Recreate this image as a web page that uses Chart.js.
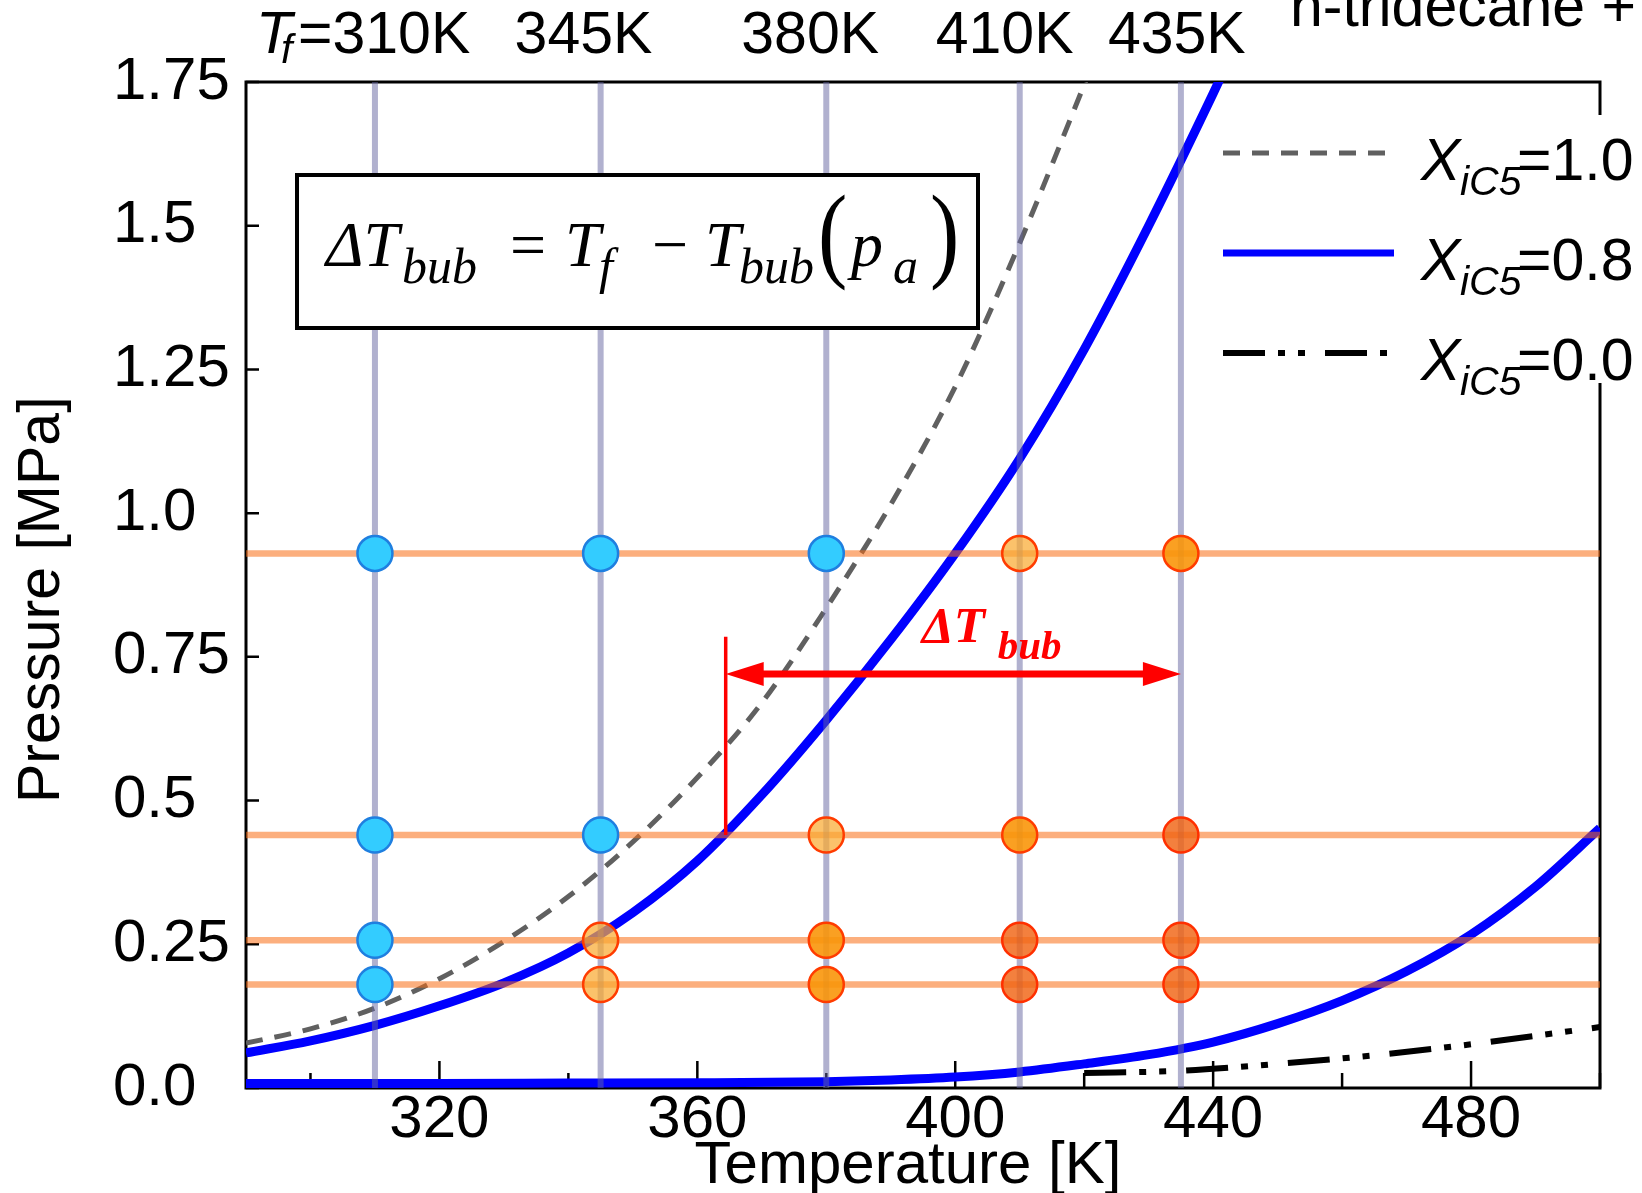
<!DOCTYPE html>
<html>
<head>
<meta charset="utf-8">
<script src="https://cdn.jsdelivr.net/npm/chart.js@4.4.1/dist/chart.umd.min.js"></script>
<style>
  html, body { margin: 0; padding: 0; background: #fff; }
  #wrap { width: 1642px; height: 1193px; }
</style>
</head>
<body>
<div id="wrap"><canvas id="chart" width="1642" height="1193"></canvas></div>
<script>
// feed temperatures [K] and ambient pressures [MPa] of the test matrix
const TF = [310, 345, 380, 410, 435];
const PA = [0.930, 0.440, 0.257, 0.180];
// flashing regime per test point (rows follow PA, columns follow TF)
// 0 = no flash, 1 = weak, 2 = moderate, 3 = strong
const REGIME = [
  [0, 0, 0, 1, 2],
  [0, 0, 1, 2, 3],
  [0, 1, 2, 3, 3],
  [0, 1, 2, 3, 3],
];

// X_iC5 = 1.0, pure isopentane saturation pressure
const T_PURE = [290, 300, 310, 320, 330, 340, 350, 360, 370, 380, 390, 400, 410, 420, 422];
const P_PURE = [0.078, 0.103, 0.139, 0.19, 0.255, 0.333, 0.428, 0.54, 0.67, 0.835, 1.015, 1.22, 1.47, 1.745, 1.80];
// X_iC5 = 0.8, bubble line
const T_BUB = [290, 300, 310, 320, 330, 340, 350, 360, 370, 380, 390, 400, 410, 420, 430, 440, 445];
const P_BUB = [0.061, 0.082, 0.109, 0.143, 0.183, 0.235, 0.305, 0.395, 0.51, 0.64, 0.78, 0.93, 1.095, 1.285, 1.50, 1.73, 1.85];
// X_iC5 = 0.8, lower (dew) branch
const T_DEW = [290, 300, 320, 340, 360, 380, 390, 400, 410, 420, 430, 440, 450, 460, 470, 480, 490, 500];
const P_DEW = [0.008, 0.008, 0.008, 0.0085, 0.009, 0.011, 0.014, 0.019, 0.028, 0.042, 0.058, 0.08, 0.112, 0.152, 0.203, 0.267, 0.35, 0.452];
// X_iC5 = 0.0
const T_C13 = [420, 435, 450, 465, 480, 500];
const P_C13 = [0.026, 0.030, 0.042, 0.057, 0.076, 0.106];

const X_TICKS = [300, 320, 340, 360, 380, 400, 420, 440, 460, 480, 500];
const X_LABELS = ['', '320', '', '360', '', '400', '', '440', '', '480', ''];
const Y_TICKS = [0, 0.25, 0.5, 0.75, 1.0, 1.25, 1.5, 1.75];
const Y_LABELS = ['0.0', '0.25', '0.5', '0.75', '1.0', '1.25', '1.5', '1.75'];

// superheat annotation: T_bub at p_a for the 435 K / 0.44 MPa case
const DT_T_BUB = 364.4;
const DT_T_F = 435;
const DT_P_A = 0.44;
const DT_P_TOP = 0.785;
const DT_P_ARROW = 0.72;
const DT_LABEL_AT = [394.8, 0.776];

const X_MIN = 290, X_MAX = 500, Y_MIN = 0, Y_MAX = 1.75;

const REGIME_FILL = ['#33ccff', 'rgba(250,170,50,0.72)', 'rgba(249,150,10,0.9)', 'rgba(240,100,20,0.82)'];
const REGIME_EDGE = ['#1f7fe0', '#ff3c00', '#ff3c00', '#ff3000'];

const SANS = '"Liberation Sans", Arial, sans-serif';
const SERIF = '"Liberation Serif", "Times New Roman", serif';
const DASH_PURE = [17, 12];
const DASH_C13 = [42, 13, 7, 13, 7, 20];

Chart.defaults.font.family = SANS;
Chart.defaults.color = '#000';

const xy = (ts, ps) => ts.map((t, i) => ({ x: t, y: ps[i] }));

const points = [], fills = [], edges = [];
PA.forEach((p, r) => TF.forEach((t, c) => {
  points.push({ x: t, y: p });
  fills.push(REGIME_FILL[REGIME[r][c]]);
  edges.push(REGIME_EDGE[REGIME[r][c]]);
}));

const curve = (data, color, width, dash) => ({
  type: 'line', data, borderColor: color, borderWidth: width, borderDash: dash || [],
  pointRadius: 0, cubicInterpolationMode: 'monotone', fill: false, order: 2,
});

const datasets = [
  { type: 'scatter', data: points, backgroundColor: fills, borderColor: edges,
    pointRadius: 17.5, borderWidth: 2.5, order: 0 },
  ...TF.map(t => ({ type: 'line', data: [{ x: t, y: Y_MIN }, { x: t, y: Y_MAX }],
    borderColor: 'rgba(100,100,160,0.5)', borderWidth: 6, pointRadius: 0, order: 1 })),
  ...PA.map(p => ({ type: 'line', data: [{ x: X_MIN, y: p }, { x: X_MAX, y: p }],
    borderColor: 'rgba(250,110,20,0.55)', borderWidth: 6.5, pointRadius: 0, order: 1 })),
  curve(xy(T_PURE, P_PURE), '#606060', 5, DASH_PURE),
  curve(xy(T_BUB, P_BUB), '#0000ff', 9),
  curve(xy(T_DEW, P_DEW), '#0000ff', 9),
  curve(xy(T_C13, P_C13), '#000000', 6, DASH_C13),
];

// draws text pieces at absolute positions; optional vertical stretch
function runs(ctx, list) {
  list.forEach(([t, font, x, y, sy]) => {
    ctx.font = font;
    ctx.save();
    ctx.translate(x, y);
    ctx.scale(1, sy || 1);
    ctx.fillText(t, 0, 0);
    ctx.restore();
  });
}

const figure = {
  id: 'figure',
  beforeDatasetsDraw(chart) {
    const { ctx, chartArea: a, scales: { x, y } } = chart;
    ctx.save();
    ctx.strokeStyle = '#000';
    ctx.lineWidth = 3;
    ctx.strokeRect(a.left, a.top, a.right - a.left, a.bottom - a.top);
    // tick marks point into the plot
    ctx.lineWidth = 2.5;
    ctx.beginPath();
    X_TICKS.forEach((v, i) => {
      const px = x.getPixelForValue(v);
      ctx.moveTo(px, a.bottom);
      ctx.lineTo(px, a.bottom - (X_LABELS[i] ? 27 : 15));
    });
    Y_TICKS.forEach(v => {
      const py = y.getPixelForValue(v);
      ctx.moveTo(a.left, py);
      ctx.lineTo(a.left + 13, py);
    });
    ctx.stroke();
    ctx.restore();
  },
  afterDatasetsDraw(chart) {
    const { ctx, scales: { x, y } } = chart;
    ctx.save();
    ctx.textBaseline = 'alphabetic';

    // ΔT_bub marker
    const x0 = x.getPixelForValue(DT_T_BUB), x1 = x.getPixelForValue(DT_T_F);
    const ya = y.getPixelForValue(DT_P_A), yt = y.getPixelForValue(DT_P_TOP);
    const yr = y.getPixelForValue(DT_P_ARROW);
    ctx.strokeStyle = ctx.fillStyle = '#ff0000';
    ctx.lineWidth = 3.5;
    ctx.beginPath(); ctx.moveTo(x0, ya); ctx.lineTo(x0, yt); ctx.stroke();
    ctx.lineWidth = 7;
    ctx.beginPath(); ctx.moveTo(x0 + 30, yr); ctx.lineTo(x1 - 30, yr); ctx.stroke();
    ctx.beginPath();
    ctx.moveTo(x0, yr); ctx.lineTo(x0 + 38, yr - 12); ctx.lineTo(x0 + 38, yr + 12); ctx.closePath();
    ctx.moveTo(x1, yr); ctx.lineTo(x1 - 38, yr - 12); ctx.lineTo(x1 - 38, yr + 12); ctx.closePath();
    ctx.fill();
    const lx = x.getPixelForValue(DT_LABEL_AT[0]), ly = y.getPixelForValue(DT_LABEL_AT[1]);
    runs(ctx, [
      ['ΔT', 'bold italic 51px ' + SERIF, lx, ly],
      ['bub', 'bold italic 41px ' + SERIF, lx + 76, ly + 17],
    ]);

    // definition box
    ctx.fillStyle = '#fff';
    ctx.fillRect(297, 175, 681, 153);
    ctx.strokeStyle = '#000';
    ctx.lineWidth = 4;
    ctx.strokeRect(297, 175, 681, 153);
    ctx.fillStyle = '#000';
    const M = 'italic 64px ' + SERIF, S = 'italic 50px ' + SERIF;
    const R = '64px ' + SERIF, P = '88px ' + SERIF;
    runs(ctx, [
      ['ΔT', M, 326, 266], ['bub', S, 402, 283],
      ['=', R, 510, 266],
      ['T', M, 565, 266], ['f', S, 599, 283],
      ['−', R, 652, 266],
      ['T', M, 705, 266], ['bub', S, 739, 283],
      ['(', P, 818, 268, 1.2], ['p', M, 851, 266], ['a', S, 893, 283], [')', P, 930, 268, 1.2],
    ]);

    // legend
    ctx.fillStyle = '#fff';
    ctx.fillRect(1208, 115, 434, 268);
    const entries = [
      ['1.0', '#606060', 5, DASH_PURE],
      ['0.8', '#0000ff', 7, []],
      ['0.0', '#000000', 6, DASH_C13],
    ];
    entries.forEach(([val, color, w, dash], i) => {
      const ly0 = 153 + i * 100;
      ctx.strokeStyle = color;
      ctx.lineWidth = w;
      ctx.setLineDash(dash);
      ctx.beginPath(); ctx.moveTo(1223, ly0); ctx.lineTo(1394, ly0); ctx.stroke();
      ctx.setLineDash([]);
      ctx.fillStyle = '#000';
      runs(ctx, [
        ['X', 'italic 59px ' + SANS, 1421, ly0 + 27],
        ['iC5', 'italic 41px ' + SANS, 1460, ly0 + 42],
        ['=' + val, '59px ' + SANS, 1517, ly0 + 27],
      ]);
    });

    // feed temperature labels above the frame
    ctx.fillStyle = '#000';
    const F = '59px ' + SANS;
    runs(ctx, [
      ['T', 'italic 59px ' + SANS, 256, 53],
      ['f', 'italic 41px ' + SANS, 281, 63],
      ['=310K', F, 298, 53],
    ]);
    const dx = [0, -86, -85, -84, -73];
    TF.forEach((t, i) => {
      if (i === 0) return;
      runs(ctx, [[t + 'K', F, x.getPixelForValue(t) + dx[i], 53]]);
    });
    runs(ctx, [['n-tridecane +', F, 1290, 26]]);
    ctx.restore();
  },
};

new Chart(document.getElementById('chart'), {
  data: { datasets },
  options: {
    responsive: false,
    animation: false,
    events: [],
    layout: { padding: { top: 82, right: 42, left: 113, bottom: 0 } },
    plugins: { legend: { display: false }, tooltip: { enabled: false } },
    scales: {
      x: {
        type: 'linear', min: X_MIN, max: X_MAX,
        afterBuildTicks: s => { s.ticks = X_TICKS.map(v => ({ value: v })); },
        afterFit: s => { s.height = 105; },
        grid: { display: false }, border: { display: false },
        ticks: { callback: (v, i) => X_LABELS[i], font: { size: 60, lineHeight: 1 }, padding: -6,
                 maxRotation: 0, autoSkip: false },
        // trailing en space nudges the centred title a little to the left
        title: { display: true, text: 'Temperature [K]\u2002', font: { size: 60, lineHeight: 1 },
                 padding: { top: 0, bottom: -3 } },
      },
      y: {
        type: 'linear', min: Y_MIN, max: Y_MAX,
        afterBuildTicks: s => { s.ticks = Y_TICKS.map(v => ({ value: v })); },
        afterFit: s => { s.width = 133; },
        grid: { display: false }, border: { display: false },
        // labels are left-aligned at the outer edge of the axis box
        ticks: { callback: (v, i) => Y_LABELS[i], font: { size: 60 }, crossAlign: 'far', autoSkip: false },
        // title sits left of the label column
        title: { display: true, text: 'Pressure [MPa]\u2002', font: { size: 59, lineHeight: 1 },
                 padding: { top: -100, bottom: 0 } },
      },
    },
  },
  plugins: [figure],
});
</script>
</body>
</html>
